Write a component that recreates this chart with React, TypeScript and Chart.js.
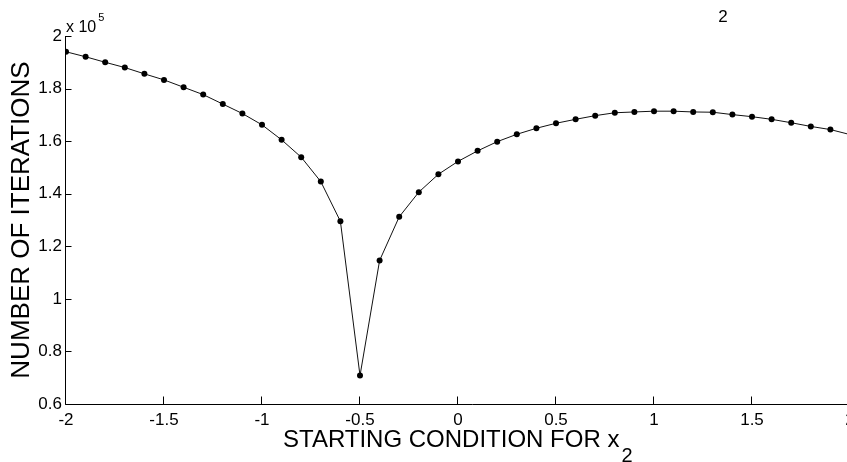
import React, { useEffect, useRef } from "react";
import { Chart, registerables } from "chart.js";

Chart.register(...registerables);

// Starting condition for x2
const startX = [
  -2.0, -1.9, -1.8, -1.7, -1.6, -1.5, -1.4, -1.3, -1.2, -1.1,
  -1.0, -0.9, -0.8, -0.7, -0.6, -0.5, -0.4, -0.3, -0.2, -0.1,
  0.0, 0.1, 0.2, 0.3, 0.4, 0.5, 0.6, 0.7, 0.8, 0.9,
  1.0, 1.1, 1.2, 1.3, 1.4, 1.5, 1.6, 1.7, 1.8, 1.9, 2.0,
];
// Number of iterations, in units of 10^5
const iterations = [
  1.940, 1.921, 1.900, 1.880, 1.856, 1.833, 1.805, 1.777, 1.741, 1.705,
  1.662, 1.605, 1.539, 1.446, 1.295, 0.708, 1.146, 1.312, 1.406, 1.474,
  1.523, 1.563, 1.598, 1.626, 1.649, 1.668, 1.683, 1.697, 1.708, 1.711,
  1.714, 1.714, 1.711, 1.710, 1.701, 1.693, 1.683, 1.670, 1.656, 1.644, 1.625,
];
const xTicks = [-2, -1.5, -1, -0.5, 0, 0.5, 1, 1.5, 2];
const yTicks = [0.6, 0.8, 1, 1.2, 1.4, 1.6, 1.8, 2];
const xTitle = "STARTING CONDITION FOR x";
const xTitleSub = "2";
const yTitle = "NUMBER OF ITERATIONS";
const multiplierText = "x 10";
const multiplierExp = "5";
const topFragment = "2";

const FONT = "'Liberation Sans', Arial, Helvetica, sans-serif";

const decorPlugin = {
  id: "decor",
  afterDraw(chart: any) {
    const ctx = chart.ctx as CanvasRenderingContext2D;
    const xs = chart.scales.x;
    const ys = chart.scales.y;
    const area = chart.chartArea;
    const ax = Math.round(area.left) - 0.5;
    const ay = Math.round(area.bottom) + 0.5;
    ctx.save();
    ctx.strokeStyle = "#000";
    ctx.lineWidth = 1;
    ctx.beginPath();
    ctx.moveTo(ax, Math.round(ys.getPixelForValue(2)));
    ctx.lineTo(ax, ay);
    ctx.lineTo(chart.width, ay);
    ctx.stroke();
    // inward ticks
    ctx.beginPath();
    xTicks.forEach((v) => {
      const px = Math.round(xs.getPixelForValue(v)) - 0.5;
      ctx.moveTo(px, ay);
      ctx.lineTo(px, ay - 8);
    });
    yTicks.forEach((v) => {
      const py = Math.round(ys.getPixelForValue(v)) + 0.5;
      ctx.moveTo(ax, py);
      ctx.lineTo(ax + 6, py);
    });
    ctx.stroke();

    ctx.fillStyle = "#000";
    // multiplier
    ctx.textBaseline = "alphabetic";
    ctx.textAlign = "left";
    ctx.font = `16px ${FONT}`;
    ctx.fillText(multiplierText, 66, 32);
    const w = ctx.measureText(multiplierText).width;
    ctx.font = `11px ${FONT}`;
    ctx.fillText(multiplierExp, 66 + w + 2, 21);

    // top fragment
    ctx.font = `17px ${FONT}`;
    ctx.textAlign = "center";
    ctx.fillText(topFragment, 723, 22);

    // x title
    ctx.font = `24px ${FONT}`;
    ctx.textAlign = "left";
    ctx.fillText(xTitle, 283, 447);
    const tw = ctx.measureText(xTitle).width;
    ctx.font = `20px ${FONT}`;
    ctx.fillText(xTitleSub, 283 + tw + 2, 462);

    // y title
    ctx.translate(29, 220);
    ctx.rotate(-Math.PI / 2);
    ctx.font = `26px ${FONT}`;
    ctx.textAlign = "center";
    ctx.fillText(yTitle, 0, 0);
    ctx.restore();
  },
};

export default function App() {
  const ref = useRef<HTMLCanvasElement | null>(null);
  useEffect(() => {
    if (!ref.current) return;
    const chart = new Chart(ref.current, {
      type: "line",
      data: {
        datasets: [
          {
            data: startX.map((x, i) => ({ x, y: iterations[i] })),
            borderColor: "#111",
            borderWidth: 1,
            pointRadius: 3,
            pointBackgroundColor: "#000",
            pointBorderWidth: 0,
            tension: 0,
          },
        ],
      },
      options: {
        animation: false,
        responsive: false,
        layout: { padding: { top: 36, left: 0, right: 30, bottom: 0 } },
        plugins: { legend: { display: false }, tooltip: { enabled: false } },
        scales: {
          x: {
            type: "linear",
            min: -2,
            max: 2,
            afterBuildTicks: (s: any) => {
              s.ticks = xTicks.map((v) => ({ value: v }));
            },
            afterFit: (s: any) => {
              s.height = 58;
              s.paddingLeft = 0;
              s.paddingRight = 0;
            },
            grid: { display: false, drawTicks: false },
            border: { display: false },
            ticks: {
              autoSkip: false,
              maxRotation: 0,
              padding: 6,
              color: "#000",
              font: { family: FONT, size: 17 },
              callback: (v: any) => String(v),
            },
          },
          y: {
            type: "linear",
            min: 0.6,
            max: 2,
            afterBuildTicks: (s: any) => {
              s.ticks = yTicks.map((v) => ({ value: v }));
            },
            afterFit: (s: any) => {
              s.width = 66;
              s.paddingTop = 0;
              s.paddingBottom = 0;
            },
            grid: { display: false, drawTicks: false },
            border: { display: false },
            ticks: {
              autoSkip: false,
              padding: 4,
              color: "#000",
              font: { family: FONT, size: 17 },
              callback: (v: any) => String(v),
            },
          },
        },
      },
      plugins: [decorPlugin],
    });
    return () => chart.destroy();
  }, []);
  return (
    <div
      style={{
        position: "fixed",
        left: 0,
        top: 0,
        width: 847,
        height: 462,
        overflow: "hidden",
        background: "#fff",
      }}
    >
      <canvas ref={ref} width={880} height={462} style={{ width: 880, height: 462, display: "block" }} />
    </div>
  );
}
